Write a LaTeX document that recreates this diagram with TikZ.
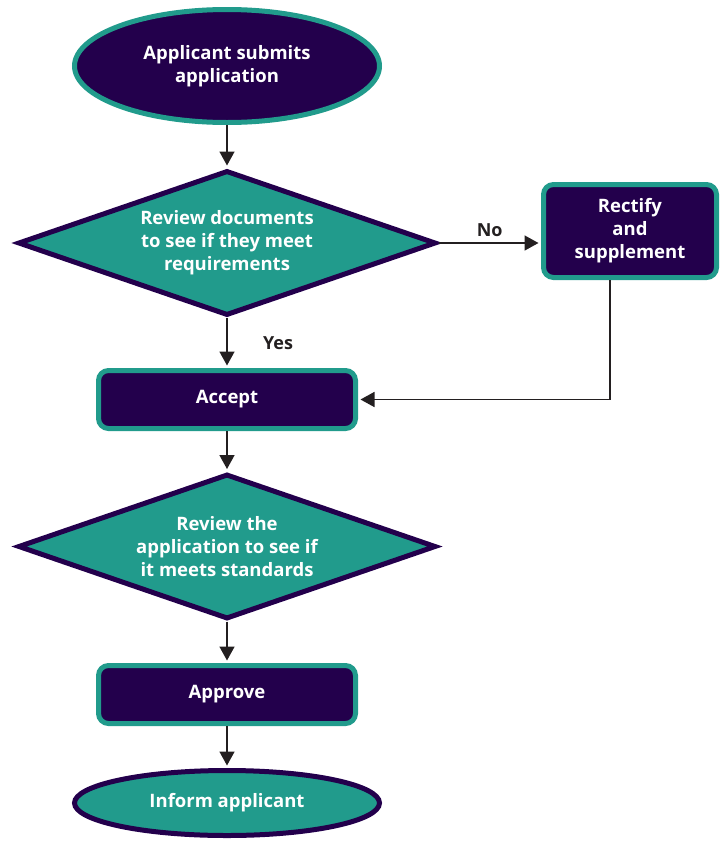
\documentclass[tikz,border=0pt]{standalone}
\usepackage{fontspec}
\setmainfont{Open Sans}
\usetikzlibrary{shapes.geometric,arrows.meta,positioning}
\definecolor{deeppurple}{RGB}{35,0,76}
\definecolor{seateal}{RGB}{33,155,140}
\definecolor{inkline}{RGB}{35,31,32}

\begin{document}
\begin{tikzpicture}[x=1pt,y=-1pt,
  txt/.style={font=\fontsize{18.5}{23}\selectfont\bfseries,text=white,align=center},
  terminal/.style={ellipse,txt,line width=5pt,minimum width=305pt,inner sep=0pt},
  decision/.style={diamond,aspect=2.84,txt,fill=seateal,draw=deeppurple,line width=5pt,minimum width=418pt,minimum height=145pt,inner sep=0pt},
  stepbox/.style={rectangle,rounded corners=10pt,txt,fill=deeppurple,draw=seateal,line width=5pt,minimum height=58pt},
  flow/.style={draw=inkline,line width=1.6pt,-{Triangle[length=14pt,width=15pt]},shorten >=2.5pt},
  branch/.style={font=\fontsize{18}{20}\selectfont\bfseries,text=inkline}]
\useasboundingbox (0,0) rectangle (722,841);
% Flow chart
\node[terminal,fill=deeppurple,draw=seateal,minimum height=113pt] (submit) at (227,66) {Applicant submits\\application};
\node[decision] (docs) at (227,243) {Review documents\\to see if they meet\\requirements};
\node[stepbox,minimum width=173pt,minimum height=93pt] (rectify) at (630,231) {Rectify\\and\\supplement};
\node[stepbox,minimum width=257pt] (accept) at (227,399.5) {Accept};
\node[decision] (standards) at (227,546.5) {Review the\\application to see if\\it meets standards};
\node[stepbox,minimum width=257pt] (approve) at (227,694.5) {Approve};
\node[terminal,fill=seateal,draw=deeppurple,minimum height=65pt] (inform) at (227,803) {Inform applicant};
\draw[flow] (submit) -- (docs);
\draw[flow] (docs.east) -- (docs.east -| rectify.west) node[branch,midway,above=2pt] {No};
\draw[flow] (docs) -- (accept) node[branch,midway,right=32pt] {Yes};
\draw[flow] ([xshift=-20pt]rectify.south) |- (accept.east);
\draw[flow] (accept) -- (standards);
\draw[flow] (standards) -- (approve);
\draw[flow] (approve) -- (inform);
\end{tikzpicture}
\end{document}
